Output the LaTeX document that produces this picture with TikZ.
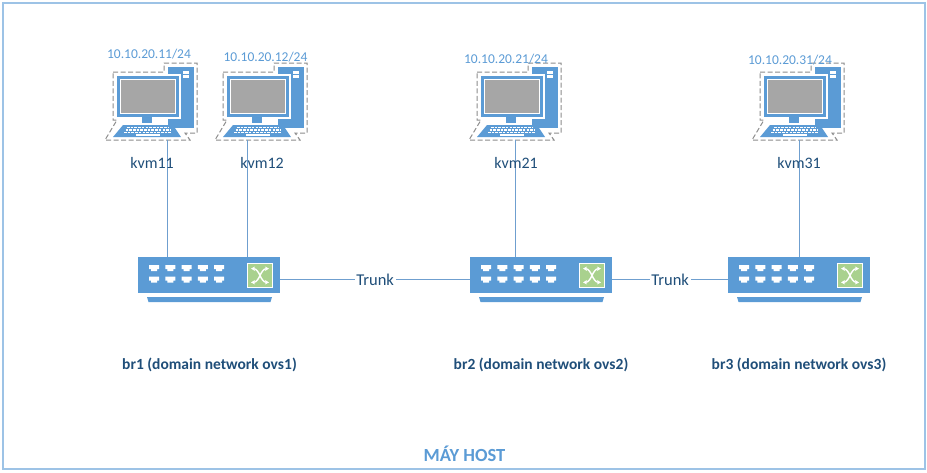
\documentclass[tikz,border=0pt]{standalone}
\usepackage{fontspec}
\setmainfont{Carlito}
\usetikzlibrary{arrows.meta}
\definecolor{iconblue}{HTML}{5B9BD5}
\definecolor{framec}{HTML}{9DC3E6}
\definecolor{darkt}{HTML}{1F4E79}
\definecolor{lineb}{HTML}{6F9FCF}
\definecolor{greenb}{HTML}{A9D18E}
\definecolor{screen}{HTML}{A6A6A6}
\tikzset{
  x=1pt,y=-1pt,
  link/.style={draw=lineb,line width=1pt},
  iptext/.style={text=iconblue,font=\fontsize{13.5}{15}\selectfont,inner sep=0pt,anchor=center},
  hosttext/.style={text=darkt,font=\fontsize{16}{18}\selectfont,inner sep=0pt,anchor=center},
  brtext/.style={text=darkt,font=\bfseries\fontsize{15.5}{18}\selectfont,inner sep=0pt,anchor=center},
  trunktext/.style={text=darkt,fill=white,font=\fontsize{16.5}{18}\selectfont,inner sep=1.5pt,anchor=center},
  swbody/.style={rectangle,fill=iconblue,minimum width=142pt,minimum height=36pt,inner sep=0pt,anchor=north west},
  pics/computer/.style={code={
    \draw[gray!90,dash pattern=on 5pt off 2.5pt,line width=1pt]
      (-4,-4) -- (47,-4) -- (47,-13) -- (80,-13) -- (80,57) -- (68,57) -- (73,64) -- (-12,64) -- (0,44) -- (-4,44) -- cycle;
    \fill[iconblue] (51,-9) rectangle (77,52);
    \fill[white] (-2,-2) rectangle (64,43);
    \fill[white] (66,-5) rectangle (72,-2.5);
    \fill[white] (66,-1) rectangle (72,1.5);
    \fill[iconblue] (0,0) rectangle (62,41);
    \fill[white] (3,3) rectangle (59,38);
    \fill[screen] (4,4) rectangle (58,37);
    \fill[white] (22,41) rectangle (40,52);
    \fill[iconblue] (25,41) rectangle (35,47);
    \fill[iconblue] (6,49) -- (56,49) -- (64,61) -- (-4,61) -- cycle;
    \foreach \r/\a/\b in {51.5/10/52,54/8.5/53.5,56.5/7/55}{
      \draw[white,line width=1.4pt,dash pattern=on 2.6pt off 1.1pt] (\a,\r) -- (\b,\r);}
    \fill[white] (19,58) rectangle (43,60);
  }},
  pics/swdetail/.style={code={
    \foreach \i in {0,...,4}{
      \foreach \j in {0,1}{
        \fill[white] ({11+16.3*\i},{8+11.7*\j}) -- ++(10,0) -- ++(0,4) -- ++(-2,0) -- ++(0,2) -- ++(-6,0) -- ++(0,-2) -- ++(-2,0) -- cycle;
      }}
    \fill[white] (109,6) rectangle (135,31);
    \fill[greenb] (110,7) rectangle (134,30);
    \draw[white,line width=1.4pt,{Stealth[length=4pt,width=4.5pt]}-{Stealth[length=4pt,width=4.5pt]}] (113,11.5) .. controls (122,12) and (122,25) .. (131,25.5);
    \draw[white,line width=1.4pt,{Stealth[length=4pt,width=4.5pt]}-{Stealth[length=4pt,width=4.5pt]}] (113,25.5) .. controls (122,25) and (122,12) .. (131,11.5);
    \fill[iconblue] (9,40) -- (134,40) -- (132.5,45) -- (10.5,45) -- cycle;
  }}
}
\begin{document}
\begin{tikzpicture}
\useasboundingbox (0,0) rectangle (927,472);
\draw[framec,line width=1.5pt] (3.2,3) rectangle (925,469);

% switches
\node[swbody] (sw1) at (138,257) {};
\node[swbody] (sw2) at (470,257) {};
\node[swbody] (sw3) at (728,257) {};
\pic at (138,257) {swdetail};
\pic at (470,257) {swdetail};
\pic at (728,257) {swdetail};

% computers
\pic at (117,76) {computer};
\pic at (227,76) {computer};
\pic at (481,76) {computer};
\pic at (764,76) {computer};
\coordinate (pc11) at (167.5,140);
\coordinate (pc12) at (247.5,140);
\coordinate (pc21) at (515.5,140);
\coordinate (pc31) at (799.5,140);

% connectors
\draw[link] (pc11) -- (pc11 |- sw1.north);
\draw[link] (pc12) -- (pc12 |- sw1.north);
\draw[link] (pc21) -- (pc21 |- sw2.north);
\draw[link] (pc31) -- (pc31 |- sw3.north);
\draw[link] ([yshift=-4.5pt]sw1.east) -- node[trunktext,pos=0.5] (t1) {Trunk} ([yshift=-4.5pt]sw2.west);
\draw[link] ([yshift=-4.5pt]sw2.east) -- node[trunktext,pos=0.5] (t2) {Trunk} ([yshift=-4.5pt]sw3.west);

% labels
\node[iptext] (ip11) at (149,54) {10.10.20.11/24};
\node[iptext] (ip12) at (265.5,57) {10.10.20.12/24};
\node[iptext] (ip21) at (506,59) {10.10.20.21/24};
\node[iptext] (ip31) at (790,60) {10.10.20.31/24};
\node[hosttext] (k11) at (152,163) {kvm11};
\node[hosttext] (k12) at (262,163) {kvm12};
\node[hosttext] (k21) at (516,163) {kvm21};
\node[hosttext] (k31) at (799,163) {kvm31};
\node[brtext] (b1) at (209.5,365) {br1 (domain network ovs1)};
\node[brtext] (b2) at (541,365) {br2 (domain network ovs2)};
\node[brtext] (b3) at (799,365) {br3 (domain network ovs3)};
\node[text=iconblue,font=\fontsize{18.5}{20}\selectfont\bfseries,inner sep=0pt] (host) at (464.5,454) {MÁY HOST};
\end{tikzpicture}
\end{document}
